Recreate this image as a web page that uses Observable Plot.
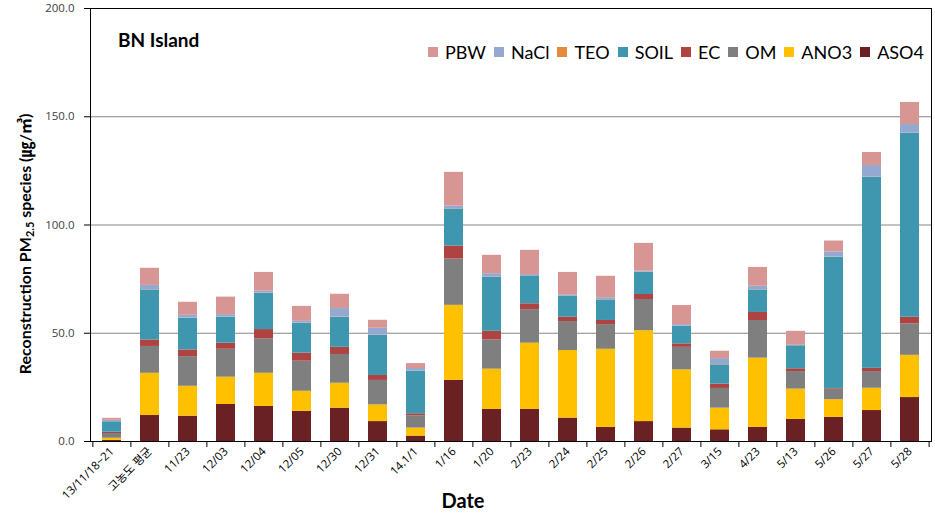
<!DOCTYPE html>
<html><head><meta charset="utf-8">
<script src="https://cdn.jsdelivr.net/npm/d3@7"></script>
<script src="https://cdn.jsdelivr.net/npm/@observablehq/plot@0.6"></script>
<style>
body{margin:0;background:#fff;}
#chart{position:relative;width:935px;height:520px;font-family:Lato,"Noto Sans","Noto Sans CJK KR",sans-serif;}
#chart svg{position:absolute;left:0;top:0;}
.ov{position:absolute;white-space:nowrap;color:#000;}
#title{left:118px;top:28px;font-weight:bold;font-size:19px;}
#legend{left:428px;top:41px;display:flex;align-items:center;font-size:18px;}
#legend .it{display:flex;align-items:center;margin-right:8px;}
#legend .sw{width:10px;height:10px;margin-right:7px;}
#ytitle{left:24px;top:244px;transform:translate(-50%,-50%) rotate(-90deg);font-weight:bold;font-size:16px;}
#ytitle sub{font-size:11px;vertical-align:-3px;}
#xtitle{left:463px;top:488px;transform:translateX(-50%);font-weight:bold;font-size:20px;}
</style></head><body><div id="chart"></div>
<script>
const dates = ["13/11/18~21","고농도 평균","11/23","12/03","12/04","12/05","12/30","12/31","14.1/1","1/16","1/20","2/23","2/24","2/25","2/26","2/27","3/15","4/23","5/13","5/26","5/27","5/28"];
const species = ["ASO4","ANO3","OM","EC","SOIL","TEO","NaCl","PBW"];
const legendOrder = ["PBW","NaCl","TEO","SOIL","EC","OM","ANO3","ASO4"];
const speciesColors = ["#6A2123","#FFC000","#7F7F7F","#AF4341","#3F97AF","#E68A3C","#95A9D0","#D79593"];
const yTicks = [0,50,100,150,200];
const gridValues = [50,100,150];

const ASO4 = [0.5,12.0,11.7,17.1,16.2,13.9,15.4,9.2,2.5,28.2,14.8,14.8,10.8,6.5,9.2,6.2,5.4,6.6,10.2,11.2,14.3,20.3];
const ANO3 = [1.0,19.5,13.8,12.6,15.3,9.3,11.5,7.7,3.7,34.7,18.6,30.6,31.2,36.1,42.0,26.9,10.0,31.9,14.0,8.1,10.3,19.5];
const OM   = [2.2,12.4,13.7,12.9,15.9,13.9,13.3,11.3,5.7,21.4,13.5,15.5,13.4,11.4,14.4,10.4,9.1,17.4,8.1,4.9,7.7,14.5];
const EC   = [0.6,3.0,3.1,2.8,4.3,3.7,3.3,2.3,0.9,6.0,4.0,2.7,2.0,1.9,2.3,1.6,2.0,3.7,1.3,0.3,1.5,3.1];
const SOIL = [4.8,23.1,14.6,12.0,16.8,13.8,13.9,18.6,19.7,17.1,25.0,12.9,9.8,9.5,10.3,8.2,8.9,10.4,10.6,60.6,88.2,84.9];
const TEO  = [0.1,0.1,0.1,0.1,0.1,0.1,0.1,0.1,0.1,0.1,0.1,0.1,0.1,0.1,0.1,0.1,0.1,0.1,0.1,0.1,0.1,0.1];
const NaCl = [0.6,2.0,1.3,1.1,0.8,0.8,3.9,3.1,1.1,1.2,1.5,0.5,0.5,0.9,0.4,0.6,2.8,1.6,0.4,2.3,5.4,4.0];
const PBW  = [0.9,7.9,6.0,8.1,8.7,6.9,6.6,3.7,2.3,15.6,8.5,11.2,10.3,9.9,12.8,8.8,3.4,8.7,6.2,5.1,6.0,10.2];
const seriesValues = {ASO4,ANO3,OM,EC,SOIL,TEO,NaCl,PBW};

const data = [];
dates.forEach((d,i)=>species.forEach(s=>data.push({date:d,species:s,value:seriesValues[s][i]})));

const W=935,H=520,mL=90,mR=4,mT=8,mB=79;
const step=(W-mL-mR)/dates.length;
const plotH=H-mT-mB;

const plot = Plot.plot({
  width:W,height:H,marginLeft:mL,marginRight:mR,marginTop:mT,marginBottom:mB,
  style:{fontFamily:'"Open Sans","Noto Sans CJK KR",sans-serif',fontSize:"11.5px",color:"#000",background:"transparent"},
  x:{domain:dates,paddingInner:0.5,paddingOuter:0.25,label:null},
  y:{domain:[0,200],label:null},
  color:{domain:species,range:speciesColors},
  marks:[
    Plot.ruleY(gridValues,{stroke:"#868686",strokeWidth:1}),
    Plot.barY(data,{x:"date",y:"value",fill:"species",order:species}),
    Plot.frame({stroke:"#000",strokeWidth:1}),
    Plot.axisY({ticks:yTicks,tickFormat:d3.format(".1f"),tickSize:6,tickPadding:10,fill:"#404040",stroke:"#000",label:null,fontSize:11.5}),
    Plot.ruleX(dates,{x:d=>d,stroke:"#000",insetTop:plotH,insetBottom:-6,dx:-step/2}),
    Plot.ruleX([dates[dates.length-1]],{x:d=>d,stroke:"#000",insetTop:plotH,insetBottom:-6,dx:step/2}),
    Plot.axisX({tickSize:0,tickRotate:-45,tickPadding:8,label:null,fill:"#000",fontSize:11.5})
  ]
});
const chart=document.getElementById("chart");
chart.appendChild(plot);

const ov=(id,html)=>{const e=document.createElement("div");e.className="ov";e.id=id;e.innerHTML=html;chart.appendChild(e);return e;};
ov("title","BN Island");
const lg=ov("legend","");
legendOrder.forEach(s=>{
  const it=document.createElement("div");it.className="it";
  const sw=document.createElement("div");sw.className="sw";sw.style.background=speciesColors[species.indexOf(s)];
  const t=document.createElement("span");t.textContent=s;
  it.appendChild(sw);it.appendChild(t);lg.appendChild(it);
});
ov("ytitle","Reconstruction PM<sub>2.5</sub> species (㎍/㎥)");
ov("xtitle","Date");
</script></body></html>
